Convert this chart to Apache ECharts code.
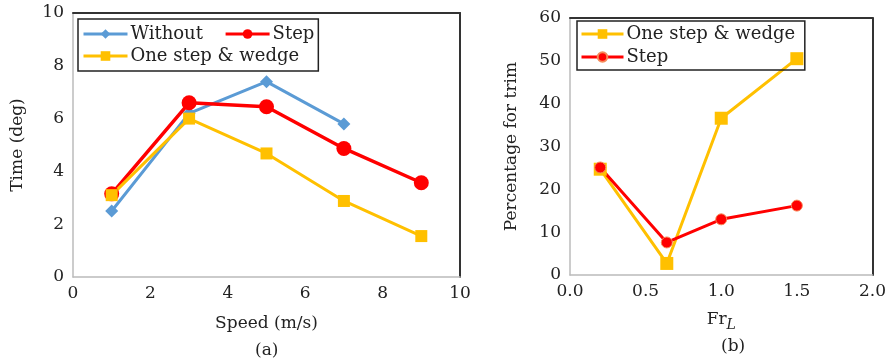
<!DOCTYPE html>
<html>
<head>
<meta charset="utf-8">
<script src="https://cdn.jsdelivr.net/npm/echarts@6/dist/echarts.min.js"></script>
<style>
  html, body { margin: 0; padding: 0; background: #fff; }
  #chart { width: 889px; height: 362px; }
</style>
</head>
<body>
<div id="chart"></div>
<script>
  // (a) time vs speed
  const speedX = [1, 3, 5, 7, 9];
  const withoutVals = [2.5, 6.2, 7.4, 5.8];
  const stepVals = [3.15, 6.6, 6.45, 4.87, 3.57];
  const wedgeVals = [3.1, 6.0, 4.68, 2.88, 1.55];

  // (b) percentage for trim vs Fr_L
  const frX = [0.2, 0.64, 1.0, 1.5];
  const trimWedge = [24.7, 2.7, 36.6, 50.5];
  const trimStep = [25.1, 7.6, 13.0, 16.2];

  const font = 'DejaVu Serif';
  const BLUE = '#5B9BD5', RED = '#FF0000', YEL = '#FFC000';

  function pairs(xs, ys) {
    return ys.map((v, i) => [xs[i], v]);
  }

  const labelStyle = { fontFamily: font, fontSize: 17, color: '#222' };

  function bottomAx(grid, min, max, interval, name, gap, fmt) {
    return {
      type: 'value', gridIndex: grid, min: min, max: max, interval: interval,
      name: name, nameLocation: 'middle', nameGap: gap,
      nameTextStyle: { fontFamily: font, fontSize: 17, color: '#222', rich: {
        i: { fontFamily: font, fontStyle: 'italic', fontSize: 14, color: '#222', padding: [10, 0, 0, 0] } } },
      axisLine: { show: true, onZero: false, lineStyle: { color: '#bbb', width: 1.5 } },
      axisTick: { show: false }, splitLine: { show: false },
      axisLabel: Object.assign({ margin: 8, formatter: fmt }, labelStyle)
    };
  }
  function leftAx(grid, min, max, interval, name, gap) {
    return {
      type: 'value', gridIndex: grid, min: min, max: max, interval: interval,
      name: name, nameLocation: 'middle', nameGap: gap,
      nameTextStyle: { fontFamily: font, fontSize: 17, color: '#222' },
      axisLine: { show: true, onZero: false, lineStyle: { color: '#bbb', width: 1.5 } },
      axisTick: { show: false }, splitLine: { show: false },
      axisLabel: Object.assign({ margin: 9 }, labelStyle)
    };
  }
  function frameAx(grid, min, max, pos) {
    return {
      type: 'value', gridIndex: grid, min: min, max: max, position: pos,
      axisLine: { show: true, onZero: false, lineStyle: { color: '#333', width: 2 } },
      axisTick: { show: false }, axisLabel: { show: false }, splitLine: { show: false }
    };
  }

  const legendText = { fontFamily: font, fontSize: 18, color: '#222' };

  const chart = echarts.init(document.getElementById('chart'));
  chart.setOption({
    animation: false,
    title: [
      { text: '(a)', left: 250, top: 337, textStyle: { fontFamily: font, fontSize: 17, fontWeight: 'normal', color: '#222' } },
      { text: '(b)', left: 716, top: 333, textStyle: { fontFamily: font, fontSize: 17, fontWeight: 'normal', color: '#222' } }
    ],
    grid: [
      { left: 73, right: 429, top: 13, bottom: 85 },
      { left: 570, right: 6, top: 18, bottom: 87 }
    ],
    xAxis: [
      bottomAx(0, 0, 10, 2, 'Speed (m/s)', 38),
      frameAx(0, 0, 10, 'top'),
      bottomAx(1, 0, 2, 0.5, 'Fr{i|L}', 33, v => v.toFixed(1)),
      frameAx(1, 0, 2, 'top')
    ],
    yAxis: [
      leftAx(0, 0, 10, 2, 'Time (deg)', 47),
      frameAx(0, 0, 10, 'right'),
      leftAx(1, 0, 60, 10, 'Percentage for trim', 50),
      frameAx(1, 0, 60, 'right')
    ],
    legend: [
      {
        data: ['Without', 'Step', 'One step & wedge'],
        left: 78, top: 19, width: 250,
        orient: 'horizontal',
        itemWidth: 44, itemHeight: 12, itemGap: 4,
        padding: [6, 4, 6, 4],
        borderColor: '#222', borderWidth: 1.5, borderRadius: 0,
        lineStyle: { width: 3 },
        formatter: name => (name === 'Without' ? name + '   ' : name),
        textStyle: Object.assign({ padding: [0, 0, 0, -2] }, legendText)
      },
      {
        data: ['One step & wedge ', 'Step '],
        left: 577, top: 21,
        orient: 'vertical',
        itemWidth: 42, itemHeight: 12, itemGap: 5,
        padding: [4, 4, 4, 3],
        borderColor: '#222', borderWidth: 1.5, borderRadius: 0,
        lineStyle: { width: 3 },
        textStyle: Object.assign({ padding: [0, 0, 0, -2] }, legendText)
      }
    ],
    series: [
      {
        name: 'Without', type: 'line', xAxisIndex: 0, yAxisIndex: 0,
        data: pairs(speedX, withoutVals),
        symbol: 'diamond', symbolSize: 13,
        lineStyle: { color: BLUE, width: 3 }, itemStyle: { color: BLUE }
      },
      {
        name: 'Step', type: 'line', xAxisIndex: 0, yAxisIndex: 0,
        data: pairs(speedX, stepVals),
        symbol: 'circle', symbolSize: 15,
        lineStyle: { color: RED, width: 3.5 }, itemStyle: { color: RED }
      },
      {
        name: 'One step & wedge', type: 'line', xAxisIndex: 0, yAxisIndex: 0,
        data: pairs(speedX, wedgeVals),
        symbol: 'rect', symbolSize: 12,
        lineStyle: { color: YEL, width: 3 }, itemStyle: { color: YEL }
      },
      {
        name: 'One step & wedge ', type: 'line', xAxisIndex: 2, yAxisIndex: 2,
        data: pairs(frX, trimWedge),
        symbol: 'rect', symbolSize: 13,
        lineStyle: { color: YEL, width: 3 }, itemStyle: { color: YEL }
      },
      {
        name: 'Step ', type: 'line', xAxisIndex: 2, yAxisIndex: 2,
        data: pairs(frX, trimStep),
        symbol: 'circle', symbolSize: 11,
        lineStyle: { color: RED, width: 3 }, itemStyle: { color: RED, borderColor: '#f58a5a', borderWidth: 1 }
      }
    ]
  });
</script>
</body>
</html>
